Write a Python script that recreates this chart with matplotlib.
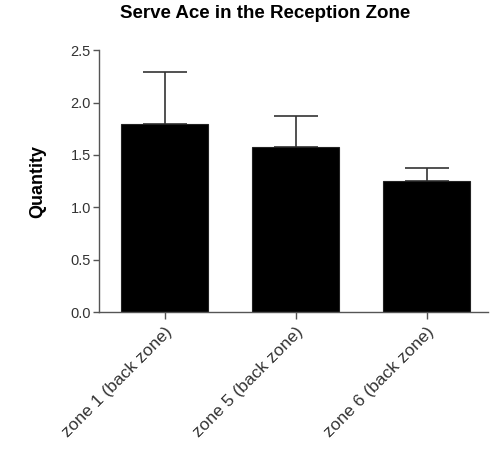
import matplotlib
matplotlib.use("Agg")
import matplotlib.pyplot as plt
import numpy as np

plt.rcParams['font.family'] = ['Liberation Sans', 'DejaVu Sans']

zones = ['zone 1 (back zone)', 'zone 5 (back zone)', 'zone 6 (back zone)']
means = [1.80, 1.575, 1.25]
upper_err = [0.49, 0.295, 0.13]

fig = plt.figure(figsize=(4.93, 4.61), dpi=100)
ax = fig.add_axes([0.201, 0.323, 0.789, 0.568])

x = np.arange(len(zones))
ax.bar(x, means, width=0.67, color='black', edgecolor='#222222', linewidth=0.8, zorder=2)
ax.errorbar(x, means, yerr=[np.zeros(len(means)), upper_err], fmt='none',
            ecolor='#333333', elinewidth=1.2, capsize=15.5, capthick=1.2, zorder=1)

ax.set_xlim(-0.5, 2.47)
ax.set_ylim(0, 2.5)
ax.set_yticks([0.0, 0.5, 1.0, 1.5, 2.0, 2.5])
ax.set_yticklabels(['0.0', '0.5', '1.0', '1.5', '2.0', '2.5'], fontsize=10.5)
ax.set_xticks(x)
ax.set_xticklabels(zones, rotation=45, ha='right', rotation_mode='anchor', fontsize=12.5)

for side in ['top', 'right']:
    ax.spines[side].set_visible(False)
for side in ['left', 'bottom']:
    ax.spines[side].set_color('#555555')
    ax.spines[side].set_linewidth(1.0)
ax.tick_params(axis='both', colors='#555555', length=4, width=1.0, labelcolor='#333333', pad=2)
ax.tick_params(axis='x', length=5, pad=4)

ax.set_ylabel('Quantity', fontsize=13, fontweight='bold', labelpad=17)
ax.set_title('Serve Ace in the Reception Zone', fontsize=13.5, fontweight='bold',
             x=0.427, pad=23)

plt.savefig('out.png', dpi=100)
